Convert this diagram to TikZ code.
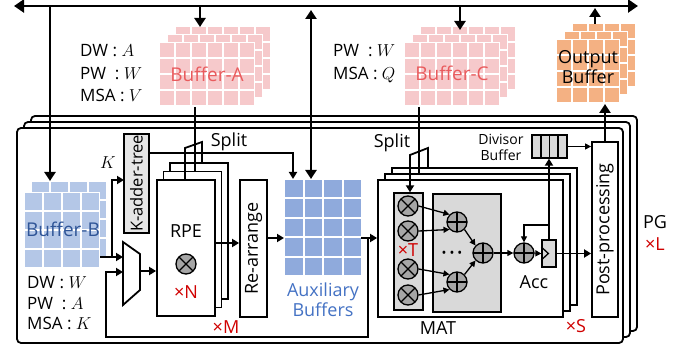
\documentclass[tikz,border=0pt]{standalone}
\usepackage{fontspec}
\setmainfont{Open Sans}
\usepackage{amsmath}
\usepackage{graphicx}
\usepackage{tikz}
\usetikzlibrary{arrows.meta}

\definecolor{pinkT}{HTML}{F6C9CB}
\definecolor{pinkL}{HTML}{E95B5D}
\definecolor{orangeT}{HTML}{F4B183}
\definecolor{blueB}{HTML}{B4C7E7}
\definecolor{blueX}{HTML}{8FAADC}
\definecolor{blueL}{HTML}{2F5597}
\definecolor{blueA}{HTML}{4472C4}
\definecolor{redM}{HTML}{D00000}
\definecolor{fillG}{HTML}{D9D9D9}
\definecolor{kG}{HTML}{E6E6E6}
\definecolor{opG}{HTML}{A6A6A6}

\begin{document}
\begin{tikzpicture}[x=1pt,y=-1pt,font=\fontsize{18}{20}\selectfont,
	bus/.style={line width=2.8pt},
	wire/.style={line width=1.8pt},
	fine/.style={line width=1.3pt},
	btip/.style={-{Triangle[length=9pt,width=11pt]}},
	wtip/.style={-{Triangle[length=7pt,width=8pt]}},
	stip/.style={-{Triangle[length=6pt,width=6pt]}},
	box/.style={draw,line width=1.8pt,fill=white,inner sep=0pt},
	mulop/.style={circle,draw,fine,fill=opG,minimum size=20pt,inner sep=0pt,
		path picture={\draw[fine] (path picture bounding box.north west) -- (path picture bounding box.south east)
			(path picture bounding box.north east) -- (path picture bounding box.south west);}},
	addop/.style={circle,draw,fine,fill=opG,minimum size=20pt,inner sep=0pt,
		path picture={\draw[fine] (path picture bounding box.north) -- (path picture bounding box.south)
			(path picture bounding box.east) -- (path picture bounding box.west);}},
	mode/.style={anchor=base west,font=\fontsize{17}{20}\selectfont,inner sep=0pt},
	times/.style={text=redM}]
	\useasboundingbox (0,0) rectangle (697,350);

	\foreach \k in {2,1,0}
		\draw[line width=1.8pt,fill=white,rounded corners=4pt] ({17+7*\k},{128-6*\k}) rectangle +(606,215);

	\foreach \l in {2,1,0}{
		\fill[white] ({159+8*\l},{42-8*\l}) rectangle +(96,64);
		\fill[white] ({404+8*\l},{42-8*\l}) rectangle +(96,64);
		\fill[white] ({556+8*\l},{39-8*\l}) rectangle +(64,64);
		\foreach \i in {0,...,5}
			\foreach \j in {0,...,3}{
				\fill[pinkT] ({160+8*\l+16*\i},{43-8*\l+16*\j}) rectangle +(14,14);
				\fill[pinkT] ({405+8*\l+16*\i},{43-8*\l+16*\j}) rectangle +(14,14);
			}
		\foreach \i in {0,...,3}
			\foreach \j in {0,...,3}
				\fill[orangeT] ({557+8*\l+16*\i},{40-8*\l+16*\j}) rectangle +(14,14);
	}
	\foreach \l in {1,0}{
		\fill[white] ({24+7*\l},{192-11*\l}) rectangle +(76,76);
		\foreach \i in {0,...,3}
			\foreach \j in {0,...,3}
				\fill[blueB] ({25+7*\l+19*\i},{193-11*\l+19*\j}) rectangle +(17,17);
	}
	\foreach \i in {0,...,3}
		\foreach \j in {0,...,4}
			\fill[blueX] ({285+19.5*\i},{180+19.5*\j}) rectangle +(17.5,17.5);

	\node[text=pinkL,font=\fontsize{19}{22}\selectfont] (bufA) at (207,74) {Buffer-A};
	\node[text=pinkL,font=\fontsize{19}{22}\selectfont] (bufC) at (452,73) {Buffer-C};
	\node[align=center] (bufO) at (588,67) {Output\\Buffer};
	\node[text=blueL,font=\fontsize{19}{22}\selectfont] (bufB) at (63,229) {Buffer-B};
	\node[text=blueA,align=center] (auxl) at (323,300) {Auxiliary\\Buffers};

	\node[mode] at (80,57) {DW : $A$};
	\node[mode] at (80,79.5) {PW\ \ : $W$};
	\node[mode] at (80,102) {MSA : $V$};
	\node[mode] at (333,57) {PW\ \ : $W$};
	\node[mode] at (333,79.5) {MSA : $Q$};
	\node[mode] at (27,288) {DW : $W$};
	\node[mode] at (27,309) {PW\ \ : $A$};
	\node[mode] at (27,330) {MSA : $K$};

	\node[box,fine,fill=kG,minimum width=25pt,minimum height=99pt] (kadd) at (136.5,183.5) {\rotatebox{90}{\fontsize{16.5}{18}\selectfont K-adder-tree}};
	\node[font=\fontsize{17}{20}\selectfont] (klbl) at (108,163) {$K$};

	\node[box,minimum width=58pt,minimum height=136pt] (rpe3) at (199,231) {};
	\node[box,minimum width=58pt,minimum height=136pt] (rpe2) at (192.5,239.5) {};
	\node[box,minimum width=58pt,minimum height=136pt] (rpe) at (186,248) {};
	\node (rpet) at (186,231) {RPE};
	\node[mulop] (rpem) at (186,264) {};
	\node[times] (rpen) at (186,292) {×N};
	\node[times] (rpex) at (226,327) {×M};

	\node[box,minimum width=27pt,minimum height=137pt] (rea) at (253.5,248.5) {\rotatebox{90}{Re-arrange}};

	\node[box,minimum width=185pt,minimum height=137pt] (mat3) at (484.5,236.5) {};
	\node[box,minimum width=185pt,minimum height=137pt] (mat2) at (477.5,242.5) {};
	\node[box,minimum width=185pt,minimum height=137pt] (mat) at (470.5,248.5) {};
	\node (matl) at (438,328) {MAT};
	\node[times] (matx) at (576,326) {×S};

	\node[draw,fine,fill=fillG,minimum width=29pt,minimum height=117pt] (col) at (408.5,251.5) {};
	\node[draw,fine,fill=fillG,minimum width=68pt,minimum height=118pt] (abox) at (467,253) {};
	\node[mulop] (m1) at (408,206) {};
	\node[mulop] (m2) at (408,231) {};
	\node[mulop] (m3) at (408,269) {};
	\node[mulop] (m4) at (408,295) {};
	\node[times] (colx) at (408,250) {×T};
	\node[addop] (a1) at (457,222) {};
	\node[addop] (a2) at (457,282) {};
	\node[addop] (a3) at (483,253) {};
	\node[font=\fontsize{13}{13}\selectfont] (dots) at (452,254) {•\hspace{3pt}•\hspace{3pt}•};
	\node[addop] (acc) at (524,253) {};
	\node[draw,fine,fill=fillG,minimum width=14pt,minimum height=27pt,inner sep=0pt] (reg) at (549,253.5) {};
	\draw[fine] ([yshift=6.5pt]reg.west) -- ([xshift=7pt]reg.west) -- ([yshift=-6.5pt]reg.west);
	\node (accl) at (534,282) {Acc};

	\node[draw,fine,fill=fillG,minimum width=35pt,minimum height=23pt] (divb) at (549.5,146.5) {};
	\foreach \xx in {541,549.5,558}
		\draw[fine] (\xx,135) -- (\xx,158);
	\node[font=\fontsize{14}{16}\selectfont,align=center] (divl) at (501,147) {Divisor\\Buffer};

	\node[box,minimum width=26pt,minimum height=175pt] (post) at (605,229.5) {\rotatebox{90}{Post-processing}};
	\node (pgl) at (655,222) {PG};
	\node[times] (pgx) at (655,244) {×L};

	\node (splA) at (229,142) {Split};
	\node (splC) at (392,143) {Split};

	\coordinate (busL) at (14,6);
	\coordinate (busR) at (638,6);
	\coordinate (bBin) at (50,181);
	\coordinate (bAin) at (200,27);
	\coordinate (auxbus) at (311,10);
	\coordinate (auxtop) at (311,179);
	\coordinate (bCin) at (460,30);
	\coordinate (oBtop) at (595,24);
	\coordinate (oBbus) at (595,8);
	\coordinate (oBin) at (605,104);
	\coordinate (bAout) at (195,107);
	\coordinate (bCout) at (419,107);
	\coordinate (spA1) at (185,148);
	\coordinate (spA2) at (202,142);
	\coordinate (spC1) at (410,155);
	\coordinate (spC2) at (428,148);
	\coordinate (bBout) at (100,257);
	\coordinate (bBbr) at (112,257);
	\coordinate (kin) at (124,180);
	\coordinate (kout) at (149,153);
	\coordinate (auxk) at (293,179);
	\coordinate (rpeo) at (215,243);
	\coordinate (reao) at (267,238);
	\coordinate (auxin) at (284,238);
	\coordinate (auxo) at (361,238);
	\coordinate (auxbr) at (368,238);
	\coordinate (fbc) at (106,337);
	\coordinate (muxi1) at (123,257);
	\coordinate (muxi2) at (123,272);
	\coordinate (muxo) at (140,271);
	\coordinate (accfb) at (549,225);

	\draw[wire,fill=white] (123,242) -- (140,254) -- (140,290) -- (123,305) -- cycle;

	\draw[bus,{Triangle[length=10pt,width=13pt]}-{Triangle[length=10pt,width=13pt]}] (busL) -- (busR);
	\draw[bus,btip] (busL -| bBin) -- (bBin);
	\draw[bus,btip] (busL -| bAin) -- (bAin);
	\draw[bus,{Triangle[length=9pt,width=11pt]}-{Triangle[length=9pt,width=11pt]}] (auxbus) -- (auxtop);
	\draw[bus,btip] (busL -| bCin) -- (bCin);
	\draw[bus,btip] (oBtop) -- (oBbus);
	\draw[bus,btip] (post.north) -- (post.north |- oBin);

	\draw[wire] (bAout) -- (bAout |- rpe2.north);
	\draw[wire] (rpe.north -| spA1) -- (spA1) -- (spA2) -- (spA2 |- rpe3.north);
	\draw[wire] (bCout) -- (bCout |- mat2.north);
	\draw[wire,wtip] (spC2 |- mat3.north) -- (spC2) -- (spC1) -- (spC1 |- col.north);

	\draw[bus,wtip] (bBout) -- (muxi1);
	\draw[wire,wtip] (bBbr) |- (kin);
	\draw[wire,wtip] (muxo) -- (muxo -| rpe.west);
	\draw[wire,wtip] (auxbr) |- (fbc) |- (muxi2);
	\draw[wire,wtip] (rpeo) -- (rpeo -| rea.west);
	\draw[wire,wtip] (reao) -- (auxin);
	\draw[wire,wtip] (kout) -| (auxk);
	\draw[wire,wtip] (auxo) -- (auxo -| mat.west);

	\draw[fine,stip] (m1.east) -- (a1.north west);
	\draw[fine,stip] (m2.east) -- (a1.south west);
	\draw[fine,stip] (m3.east) -- (a2.north west);
	\draw[fine,stip] (m4.east) -- (a2.south west);
	\draw[fine,stip] (a1.south east) -- (a3.north west);
	\draw[fine,stip] (a2.north east) -- (a3.south west);
	\draw[fine,stip] (a3) -- (acc);
	\draw[fine,stip] (acc) -- (reg.west);
	\draw[fine,stip] (accfb) -| (acc.north);
	\draw[wire,wtip] (reg.north) -- (reg.north |- divb.south);
	\draw[wire,wtip] (reg.east) -- (reg.east -| post.west);
	\draw[fine,stip] (divb.east) -- (divb.east -| post.west);
\end{tikzpicture}
\end{document}
